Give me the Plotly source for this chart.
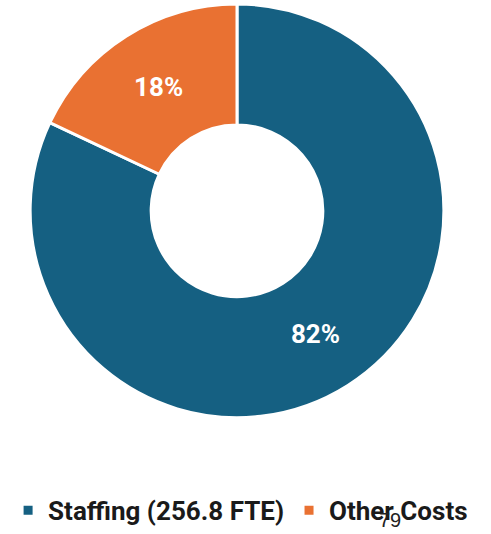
import plotly.graph_objects as go

# Budget split
categories = ["Staffing (256.8 FTE)", "Other Costs"]
shares = [82, 18]
colors = ["#156082", "#E97132"]
page_number = "79"

W, H = 491, 534

fig = go.Figure(
    go.Pie(
        labels=categories,
        values=shares,
        hole=0.415,
        sort=False,
        direction="clockwise",
        rotation=0,
        marker=dict(colors=colors, line=dict(color="white", width=3)),
        texttemplate="%{value}%",
        textposition="inside",
        insidetextorientation="horizontal",
        textfont=dict(family="Roboto", size=26, color="white", weight="bold"),
        domain=dict(x=[27 / W, 447 / W], y=[1 - 424 / H, 1 - 4 / H]),
        hoverinfo="label+percent",
    )
)

fig.update_layout(
    width=W,
    height=H,
    margin=dict(l=0, r=0, t=0, b=0),
    paper_bgcolor="white",
    plot_bgcolor="white",
    showlegend=True,
    legend=dict(
        orientation="h",
        x=0.49,
        xanchor="center",
        y=1 - 518 / H,
        yanchor="middle",
        font=dict(family="Roboto", size=26, color="#1a1a1a", weight="bold"),
        itemwidth=30,
        tracegroupgap=0,
    ),
    annotations=[
        dict(
            text=page_number,
            x=390 / W,
            y=1 - 528 / H,
            xref="paper",
            yref="paper",
            showarrow=False,
            font=dict(family="Liberation Sans", size=20, color="#222222"),
            xanchor="center",
            yanchor="middle",
        )
    ],
)

fig.write_html("out.html")
